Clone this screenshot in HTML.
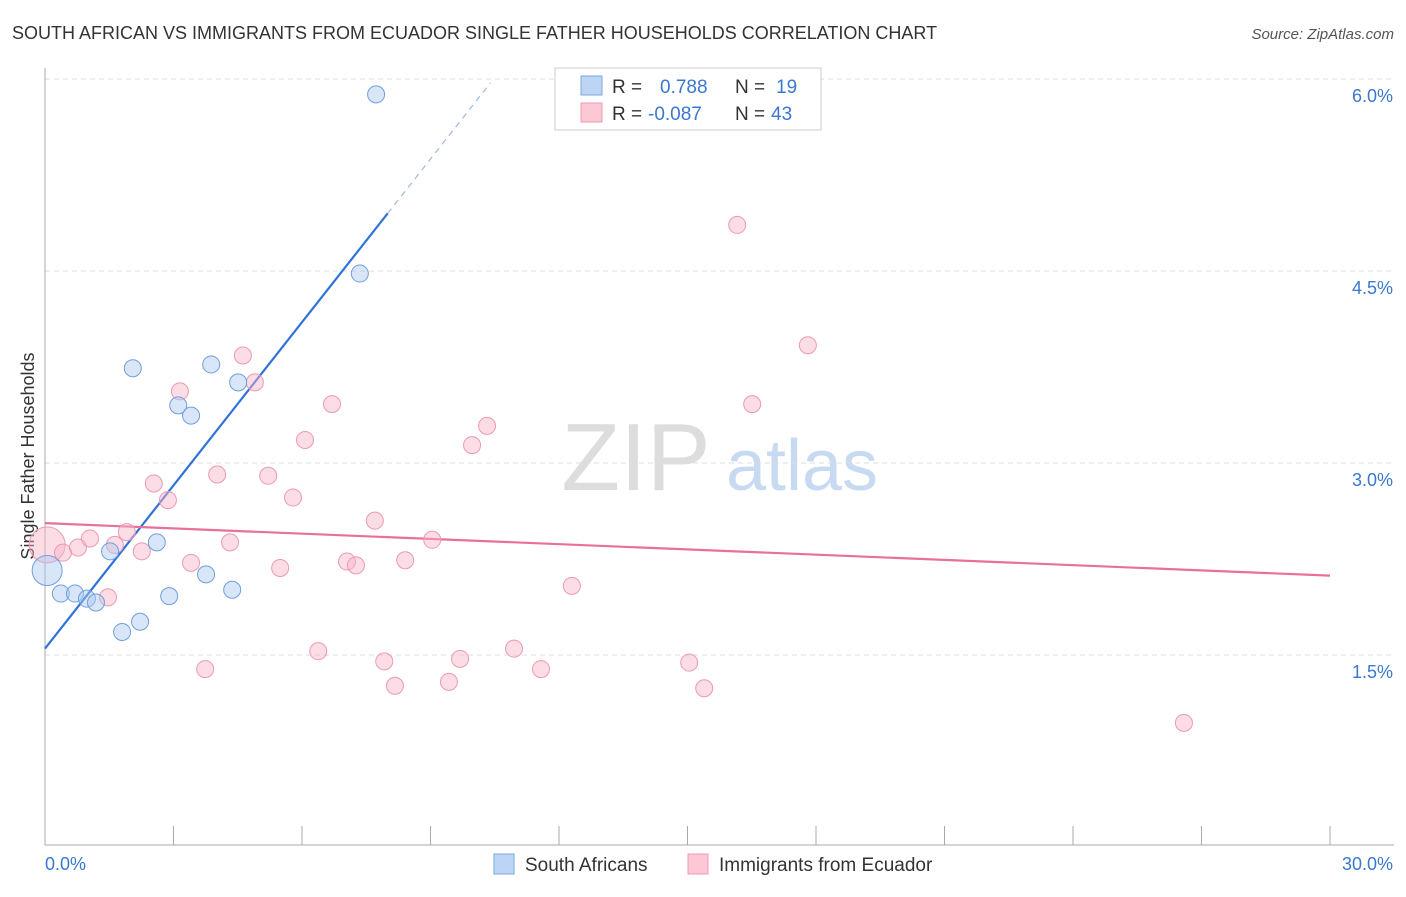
<!DOCTYPE html>
<html><head><meta charset="utf-8"><style>
body{margin:0;background:#fff;font-family:"Liberation Sans",sans-serif;}
svg text{font-family:"Liberation Sans",sans-serif;}
</style></head><body>
<svg id="chart" width="1406" height="892" xmlns="http://www.w3.org/2000/svg">
<text x="12" y="39" font-size="18" fill="#333">SOUTH AFRICAN VS IMMIGRANTS FROM ECUADOR SINGLE FATHER HOUSEHOLDS CORRELATION CHART</text>
<text x="1394" y="39" font-size="15" fill="#555" text-anchor="end" font-style="italic">Source: ZipAtlas.com</text>
<text transform="translate(34,456) rotate(-90)" font-size="18" fill="#333" text-anchor="middle">Single Father Households</text>
<g><text x="636" y="490" font-size="96" fill="#ddd" font-family="Liberation Serif" text-anchor="middle">ZIP</text><text x="802" y="490" font-size="72" fill="#c8daf2" text-anchor="middle">atlas</text></g>
<g id="grid"></g><g id="axes"></g><g id="lines"></g><g id="points"></g>
<g>
<rect x="555" y="68" width="266" height="62" fill="#fff" stroke="#ccc"/>
<rect x="581" y="76" width="21" height="19" fill="#bcd5f5" stroke="#7aa6e0"/>
<rect x="581" y="103" width="21" height="19" fill="#fcc8d6" stroke="#eb9ab2"/>
<text x="612" y="93" font-size="19" fill="#333">R =</text><text x="660" y="93" font-size="19" fill="#3a78d0">0.788</text>
<text x="735" y="93" font-size="19" fill="#333">N =</text><text x="776" y="93" font-size="19" fill="#3a78d0">19</text>
<text x="612" y="120" font-size="19" fill="#333">R =</text><text x="648" y="120" font-size="19" fill="#3a78d0">-0.087</text>
<text x="735" y="120" font-size="19" fill="#333">N =</text><text x="771" y="120" font-size="19" fill="#3a78d0">43</text>
</g>
<g>
<rect x="494" y="854" width="20" height="20" fill="#bcd5f5" stroke="#7aa6e0"/>
<text x="525" y="871" font-size="19" fill="#333">South Africans</text>
<rect x="688" y="854" width="20" height="20" fill="#fcc8d6" stroke="#eb9ab2"/>
<text x="719" y="871" font-size="19" fill="#333">Immigrants from Ecuador</text>
</g>
</svg>
<script>
const blueX=[0.05,0.37,0.70,0.98,1.19,1.52,1.80,2.22,2.05,2.61,2.90,3.11,3.41,3.76,3.88,4.37,4.51,7.35,7.73];
const blueY=[2.16,1.98,1.98,1.94,1.91,2.31,1.68,1.76,3.74,2.38,1.96,3.45,3.37,2.13,3.77,2.01,3.63,4.48,5.88];
const pinkX=[0.05,0.42,0.77,1.05,1.47,1.63,1.91,2.26,2.54,2.87,3.15,3.41,3.74,4.02,4.32,4.62,4.90,5.21,5.49,5.79,6.07,6.38,6.70,7.05,7.26,7.70,7.92,8.17,8.41,9.04,9.43,9.69,9.97,10.32,10.95,11.58,12.30,15.04,15.39,16.16,16.51,17.81,26.59];
const pinkY=[2.36,2.30,2.34,2.41,1.95,2.36,2.46,2.31,2.84,2.71,3.56,2.22,1.39,2.91,2.38,3.84,3.63,2.90,2.18,2.73,3.18,1.53,3.46,2.23,2.20,2.55,1.45,1.26,2.24,2.40,1.29,1.47,3.14,3.29,1.55,1.39,2.04,1.44,1.24,4.86,3.46,3.92,0.97];
const yTicks=[1.5,3.0,4.5,6.0];
const yTickLabels=["1.5%","3.0%","4.5%","6.0%"];
const xTicks=[0,3,6,9,12,15,18,21,24,27,30];
const xEndLabels=["0.0%","30.0%"];
const blueTrend=[1.55,0.425,8.0,10.4];
const pinkTrend=[2.53,2.12];
const NS="http://www.w3.org/2000/svg";
const sx=v=>45+v*42.833, sy=v=>655-(v-1.5)*128;
function mk(tag,attrs,parent){const e=document.createElementNS(NS,tag);for(const k in attrs)e.setAttribute(k,attrs[k]);document.getElementById(parent).appendChild(e);return e;}
yTicks.forEach((t,i)=>{
 const g=mk('line',{x1:45,x2:1394,y1:sy(t),y2:sy(t),stroke:'#ddd','stroke-dasharray':'5,4'},'grid');
 
 
 const l=mk('text',{x:1393,y:sy(t)+23,'font-size':18,fill:'#3a78d0','text-anchor':'end'},'axes');
 l.textContent=yTickLabels[i];
 
 
});
const ya=mk('line',{x1:45,x2:45,y1:68,y2:845,stroke:'#aaa'},'axes');


const xa=mk('line',{x1:45,x2:1394,y1:845,y2:845,stroke:'#aaa'},'axes');


xTicks.forEach(t=>{const k=mk('line',{x1:sx(t),x2:sx(t),y1:826,y2:845,stroke:'#aaa'},'axes');
 
 });
const l0=mk('text',{x:45,y:870,'font-size':18,fill:'#3a78d0'},'axes');l0.textContent=xEndLabels[0];


const l1=mk('text',{x:1393,y:870,'font-size':18,fill:'#3a78d0','text-anchor':'end'},'axes');l1.textContent=xEndLabels[1];


pinkX.forEach((x,i)=>{const c=mk('circle',{cx:sx(x),cy:sy(pinkY[i]),r:i==0?18:8.5,fill:'rgba(249,180,200,0.45)',stroke:'#eb9ab2','stroke-width':1},'points');
 
 });
blueX.forEach((x,i)=>{const c=mk('circle',{cx:sx(x),cy:sy(blueY[i]),r:i==0?15:8.5,fill:'rgba(170,200,240,0.45)',stroke:'#6f9ee0','stroke-width':1},'points');
 
 });
const b=blueTrend;
const bl=mk('line',{x1:sx(0),y1:sy(b[0]),x2:sx(b[2]),y2:sy(b[0]+b[1]*b[2]),stroke:'#2f73d8','stroke-width':2.2},'lines');


const bd=mk('line',{x1:sx(b[2]),y1:sy(b[0]+b[1]*b[2]),x2:sx(b[3]),y2:sy(b[0]+b[1]*b[3]),stroke:'#9bb8e6','stroke-width':1.2,'stroke-dasharray':'6,5'},'lines');


const pl=mk('line',{x1:sx(0),y1:sy(pinkTrend[0]),x2:sx(30),y2:sy(pinkTrend[1]),stroke:'#e8709a','stroke-width':2.2},'lines');


</script>
</body></html>
